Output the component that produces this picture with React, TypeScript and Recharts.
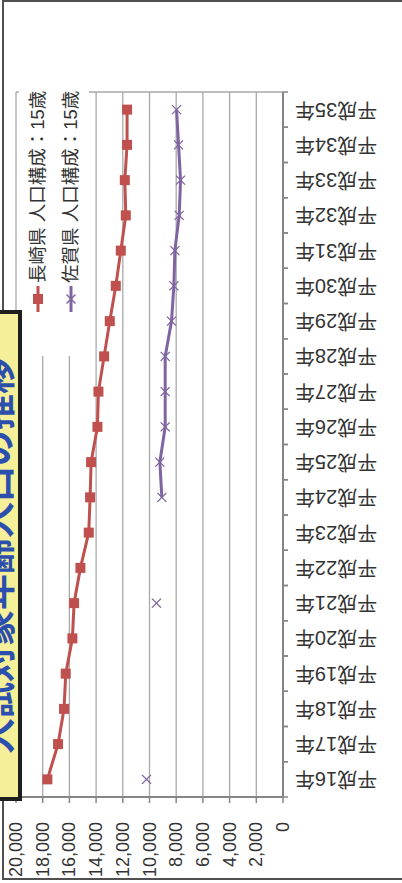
import { CartesianGrid, Legend, Line, LineChart, XAxis, YAxis } from "recharts";

// 15-year-old population, Nagasaki vs Saga, 平成16年〜平成35年
const years = [
  "平成16年", "平成17年", "平成18年", "平成19年", "平成20年",
  "平成21年", "平成22年", "平成23年", "平成24年", "平成25年",
  "平成26年", "平成27年", "平成28年", "平成29年", "平成30年",
  "平成31年", "平成32年", "平成33年", "平成34年", "平成35年",
];
const nagasaki = [
  17650, 16850, 16400, 16275, 15775, 15650, 15175, 14550, 14450, 14375,
  13900, 13825, 13400, 12975, 12525, 12150, 11775, 11850, 11680, 11680,
];
const saga: (number | null)[] = [
  10225, null, null, null, null, 9475, null, null, 9075, 9225,
  8825, 8825, 8825, 8350, 8175, 8100, 7775, 7675, 7825, 7975,
];
const valueTicks = [0, 2000, 4000, 6000, 8000, 10000, 12000, 14000, 16000, 18000, 20000];

const NAGASAKI_NAME = "長崎県 人口構成：15歳";
const SAGA_NAME = "佐賀県 人口構成：15歳";
const TITLE = "入試対象年齢人口の推移";
const LEGEND_ORDER = ["nagasaki", "saga"];

const RED = "#C0504D";
const PURPLE = "#8064A2";
const AXIS = "#868686";
const GRID = "#A9A9A9";
const TEXT = "#333333";
const FONT = '"Liberation Sans", "Noto Sans CJK JP", sans-serif';

// contiguous runs of two or more values; single years get only a marker
function splitRuns(values: (number | null)[]) {
  const runs: number[][] = [];
  let cur: number[] = [];
  values.forEach((v, i) => {
    if (v == null) {
      if (cur.length) runs.push(cur);
      cur = [];
    } else {
      cur.push(i);
    }
  });
  if (cur.length) runs.push(cur);
  return runs.filter((run) => run.length > 1);
}
const sagaRuns = splitRuns(saga);

const data = years.map((year, i) => {
  const row: Record<string, string | number | null> = { year, nagasaki: nagasaki[i], saga: saga[i] };
  sagaRuns.forEach((run, k) => {
    row[`saga${k}`] = run.includes(i) ? saga[i] : null;
  });
  return row;
});

const SquareDot = (props: any) => {
  const { cx, cy, value } = props;
  if (value == null || cx == null || cy == null || Number.isNaN(cx)) return null;
  return <rect x={cx - 5} y={cy - 5} width={10} height={10} fill={RED} />;
};

const CrossDot = (props: any) => {
  const { cx, cy, value } = props;
  if (value == null || cx == null || cy == null || Number.isNaN(cx)) return null;
  return (
    <g stroke={PURPLE} strokeWidth={1.4}>
      <line x1={cx - 4.5} y1={cy - 4.5} x2={cx + 4.5} y2={cy + 4.5} />
      <line x1={cx - 4.5} y1={cy + 4.5} x2={cx + 4.5} y2={cy - 4.5} />
    </g>
  );
};

// value labels read bottom-to-top under the axis
const ValueTick = ({ x, y, payload }: any) => (
  <text
    x={x}
    y={y}
    transform={`rotate(-90 ${x} ${y})`}
    textAnchor="end"
    dominantBaseline="central"
    fontSize={18}
    fontFamily={FONT}
    fill={TEXT}
  >
    {Number(payload.value).toLocaleString("en-US")}
  </text>
);

const BAND = 705 / years.length;

// category labels are upside down, with tick marks on the band edges
const CategoryTick = ({ x, y, payload }: any) => {
  const half = payload.offset || BAND / 2;
  const cx = x + 53;
  return (
    <g>
      <line x1={x} y1={y - half} x2={x + 5} y2={y - half} stroke={AXIS} strokeWidth={1.5} />
      <line x1={x} y1={y + half} x2={x + 5} y2={y + half} stroke={AXIS} strokeWidth={1.5} />
      <text
        x={cx}
        y={y}
        transform={`rotate(180 ${cx} ${y})`}
        textAnchor="middle"
        dominantBaseline="central"
        fontSize={20}
        fontFamily={FONT}
        fill={TEXT}
      >
        {payload.value}
      </text>
    </g>
  );
};

const LegendIcon = ({ kind }: { kind: string }) => (
  <svg width={26} height={14} style={{ display: "block", flex: "none" }}>
    {kind === "nagasaki" ? (
      <>
        <line x1={0} y1={7} x2={26} y2={7} stroke={RED} strokeWidth={3} />
        <rect x={8} y={2} width={10} height={10} fill={RED} />
      </>
    ) : (
      <>
        <line x1={0} y1={7} x2={26} y2={7} stroke={PURPLE} strokeWidth={3} />
        <g stroke={PURPLE} strokeWidth={1.4}>
          <line x1={8.5} y1={2.5} x2={17.5} y2={11.5} />
          <line x1={8.5} y1={11.5} x2={17.5} y2={2.5} />
        </g>
      </>
    )}
  </svg>
);

const renderLegend = ({ payload }: any) => {
  const items = (payload || [])
    .filter((entry: any) => LEGEND_ORDER.includes(String(entry.dataKey)))
    .sort(
      (a: any, b: any) =>
        LEGEND_ORDER.indexOf(String(a.dataKey)) - LEGEND_ORDER.indexOf(String(b.dataKey)),
    );
  return (
    <div style={{ paddingTop: 2 }}>
      {items.map((entry: any) => (
        <div
          key={String(entry.dataKey)}
          style={{ display: "flex", alignItems: "center", height: 33, paddingLeft: 44 }}
        >
          <LegendIcon kind={String(entry.dataKey)} />
          <span
            style={{
              marginLeft: 3,
              fontSize: 18.5,
              lineHeight: "20px",
              whiteSpace: "nowrap",
              fontFamily: FONT,
              color: TEXT,
            }}
          >
            {entry.value}
          </span>
        </div>
      ))}
    </div>
  );
};

export default function App() {
  return (
    <div style={{ position: "relative", width: 402, height: 883, overflow: "hidden", background: "#fff" }}>
      <style>{"body{margin:0}"}</style>
      <div
        style={{
          position: "absolute",
          left: 2,
          top: 0,
          width: 420,
          height: 880,
          boxSizing: "border-box",
          borderLeft: "2px solid #505050",
          borderTop: "2px solid #505050",
          borderBottom: "2px solid #505050",
        }}
      />
      <LineChart
        width={402}
        height={883}
        data={data}
        layout="vertical"
        margin={{ top: 92, right: 0, bottom: 0, left: 16 }}
        style={{ position: "absolute", left: 0, top: 0 }}
      >
        <CartesianGrid
          stroke={GRID}
          strokeWidth={1.3}
          horizontalCoordinatesGenerator={({ offset }: any) => [offset.top]}
        />
        <XAxis
          type="number"
          domain={[0, 20000]}
          ticks={valueTicks}
          reversed
          interval={0}
          height={86}
          axisLine={{ stroke: AXIS, strokeWidth: 2 }}
          tickLine={{ stroke: AXIS, strokeWidth: 1.5 }}
          tickSize={6}
          tickMargin={19}
          tick={ValueTick}
        />
        <YAxis
          type="category"
          dataKey="year"
          orientation="right"
          reversed
          interval={0}
          width={119}
          padding={{ top: BAND / 2, bottom: BAND / 2 }}
          axisLine={{ stroke: AXIS, strokeWidth: 2 }}
          tickLine={false}
          tickSize={0}
          tickMargin={0}
          tick={CategoryTick}
        />
        <Legend
          layout="vertical"
          align="center"
          verticalAlign="middle"
          content={renderLegend}
          wrapperStyle={{
            left: 19,
            top: 356,
            right: "auto",
            bottom: "auto",
            width: 272,
            height: 70,
            background: "#fff",
            transform: "rotate(-90deg)",
            transformOrigin: "0 0",
          }}
        />
        <Line
          dataKey="nagasaki"
          name={NAGASAKI_NAME}
          stroke={RED}
          strokeWidth={3}
          dot={SquareDot}
          activeDot={false}
          isAnimationActive={false}
        />
        {sagaRuns.map((_, k) => (
          <Line
            key={`saga${k}`}
            dataKey={`saga${k}`}
            stroke={PURPLE}
            strokeWidth={3}
            dot={false}
            activeDot={false}
            legendType="none"
            isAnimationActive={false}
          />
        ))}
        <Line
          dataKey="saga"
          name={SAGA_NAME}
          stroke="none"
          dot={CrossDot}
          activeDot={false}
          isAnimationActive={false}
        />
      </LineChart>
      <div
        style={{
          position: "absolute",
          left: -40,
          top: 310,
          width: 62,
          height: 491,
          boxSizing: "border-box",
          border: "4px solid #1E1E1E",
          background: "#F6EF9A",
          overflow: "hidden",
        }}
      >
        <div
          style={{
            position: "absolute",
            left: 30 - 483 / 2,
            top: 241.5 - 20,
            width: 483,
            height: 40,
            lineHeight: "40px",
            textAlign: "center",
            transform: "rotate(-90deg)",
            fontSize: 36,
            fontWeight: 700,
            fontFamily: '"Noto Sans CJK JP", sans-serif',
            color: "#2C4FAE",
            whiteSpace: "nowrap",
          }}
        >
          {TITLE}
        </div>
      </div>
    </div>
  );
}
